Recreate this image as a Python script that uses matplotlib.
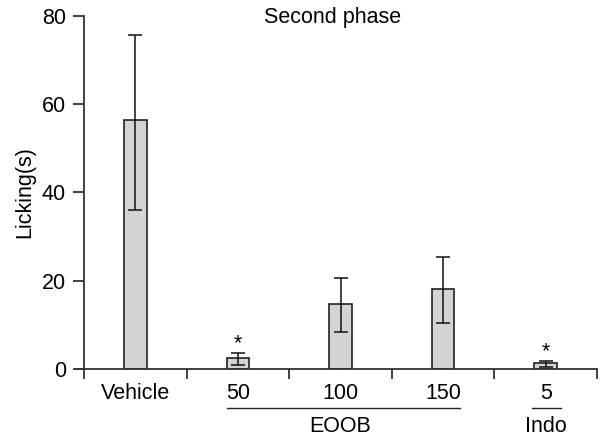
import matplotlib
matplotlib.use("Agg")
import matplotlib.pyplot as plt
import numpy as np

plt.rcParams['font.family'] = ['Liberation Sans', 'DejaVu Sans']

categories = ["Vehicle", "50", "100", "150", "5"]
means = [56.4, 2.4, 14.8, 18.2, 1.4]
err_up = [19.4, 1.2, 5.9, 7.2, 0.5]
err_down = [20.3, 1.5, 6.4, 7.8, 0.9]
significant = [False, True, False, False, True]
groups = [("EOOB", 1, 3), ("Indo", 4, 4)]
yticks = [0, 20, 40, 60, 80]

FS = 15.5

fig = plt.figure(figsize=(6.05, 4.37), dpi=100)
ax = fig.add_axes([84/605, 1-369/437, (597-84)/605, (369-16)/437])

x = np.arange(len(categories))
ax.bar(x, means, width=0.22, color='#d4d4d4', edgecolor='#222222', linewidth=1.2, zorder=2)
ax.errorbar(x, means, yerr=[err_down, err_up], fmt='none', ecolor='#111111',
            elinewidth=1.1, capsize=5, capthick=1.1, zorder=3)
for xi, m, e, s in zip(x, means, err_up, significant):
    if s:
        ax.text(xi, m + e - 0.3, "*", ha='center', va='bottom', fontsize=FS)

ax.set_xlim(-0.5, len(categories) - 0.5)
ax.set_ylim(0, 80)
ax.set_yticks(yticks)
ax.set_xticks(np.arange(len(categories) + 1) - 0.5)
ax.set_xticklabels([])
ax.tick_params(axis='y', direction='out', length=8, width=1.3, color='#333333', labelsize=FS, pad=5)
ax.tick_params(axis='x', direction='out', length=7, width=1.3, color='#333333')
for side in ['top', 'right']:
    ax.spines[side].set_visible(False)
for side in ['left', 'bottom']:
    ax.spines[side].set_color('#333333')
    ax.spines[side].set_linewidth(1.3)
ax.spines['bottom'].set_bounds(-0.5 - 0.08, len(categories) - 0.5)

trans = ax.get_xaxis_transform()
for xi, c in zip(x, categories):
    ax.text(xi, -0.068, c, transform=trans, ha='center', va='center', fontsize=FS)
for name, a, b in groups:
    left = a - (0.109 if b > a else 0.137)
    right = b + (0.165 if b > a else 0.149)
    ax.plot([left, right], [-0.11, -0.11], transform=trans,
            color='#222222', linewidth=1.0, clip_on=False)
    ax.text((a + b) / 2, -0.163, name, transform=trans, ha='center', va='center', fontsize=FS)

ax.set_ylabel("Licking(s)", fontsize=FS, labelpad=5)
ax.text(0.485, 0.997, "Second phase", transform=ax.transAxes, ha='center', va='center', fontsize=FS)

fig.savefig("out.png", dpi=100)
